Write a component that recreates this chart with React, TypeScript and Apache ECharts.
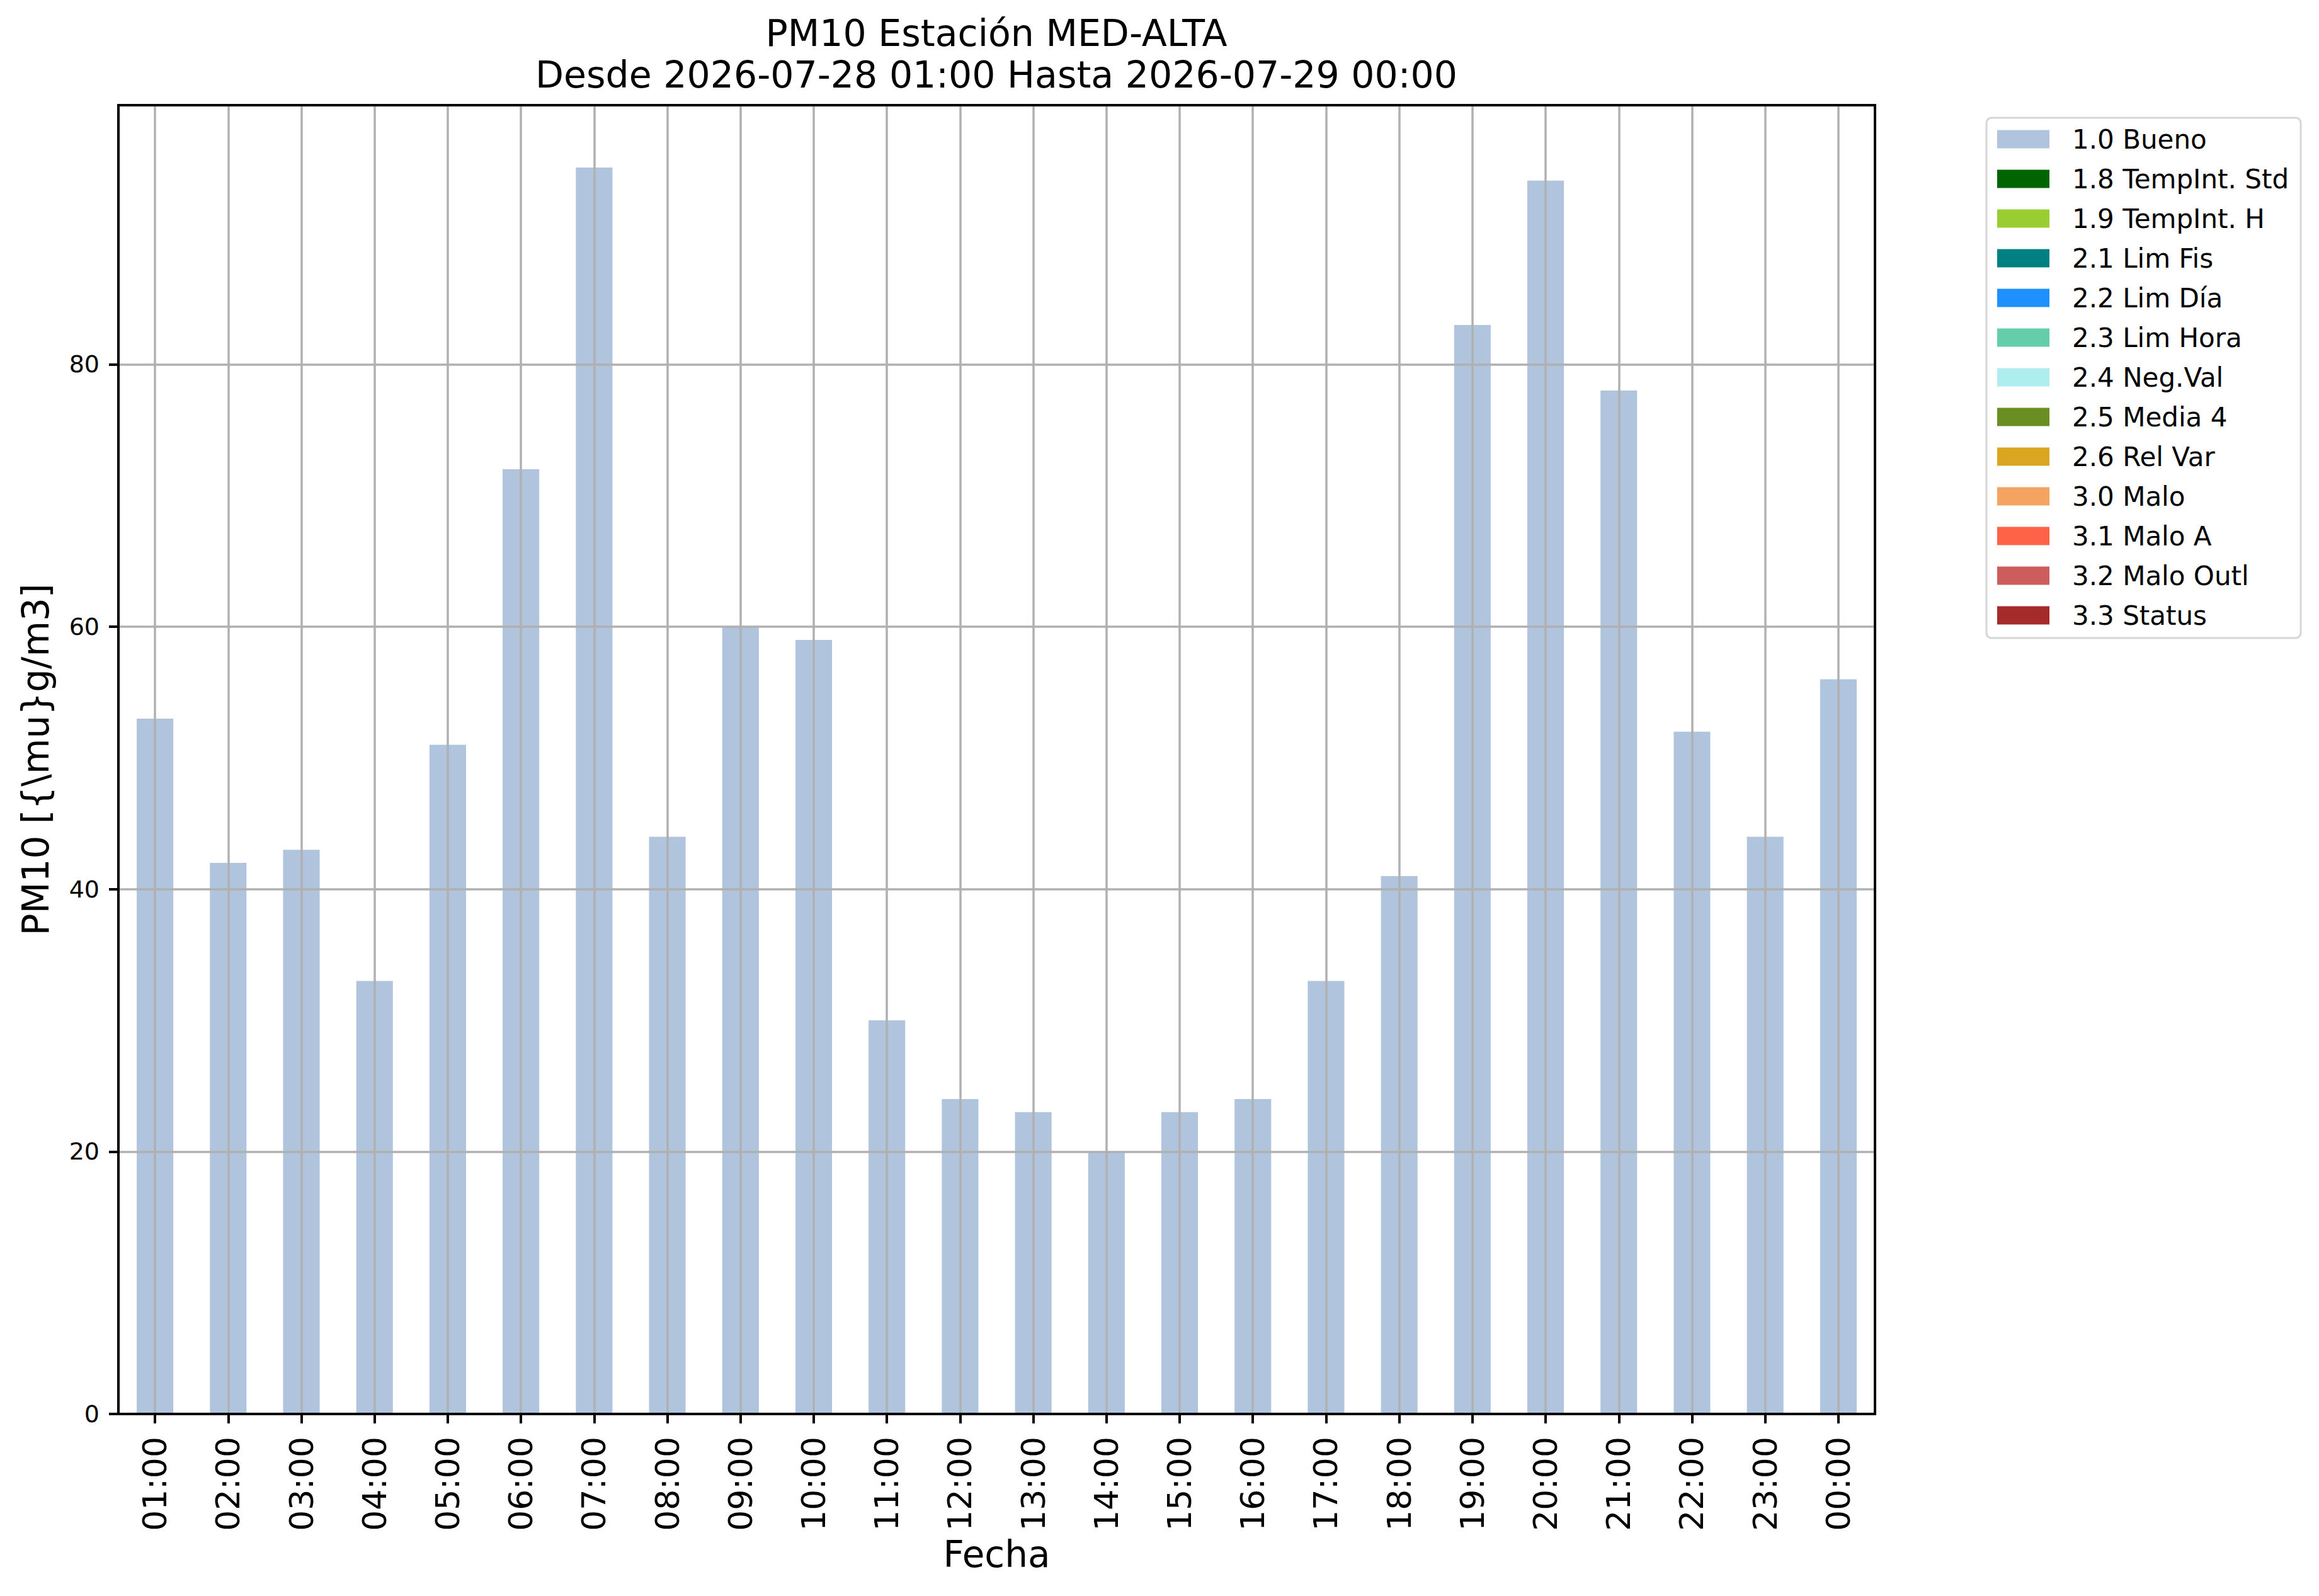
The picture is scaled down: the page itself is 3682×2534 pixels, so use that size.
import React, { useEffect, useRef } from "react";
import * as echarts from "echarts";

const categories = ["01:00","02:00","03:00","04:00","05:00","06:00","07:00","08:00","09:00","10:00","11:00","12:00","13:00","14:00","15:00","16:00","17:00","18:00","19:00","20:00","21:00","22:00","23:00","00:00"];
const buenoValues = [53,42,43,33,51,72,95,44,60,59,30,24,23,20,23,24,33,41,83,94,78,52,44,56];
const legendNames = ["1.0 Bueno","1.8 TempInt. Std","1.9 TempInt. H","2.1 Lim Fis","2.2 Lim Día","2.3 Lim Hora","2.4 Neg.Val","2.5 Media 4","2.6 Rel Var","3.0 Malo","3.1 Malo A","3.2 Malo Outl","3.3 Status"];
const legendColors = ["#b0c4de","#006400","#9acd32","#008080","#1e90ff","#66cdaa","#afeeee","#6b8e23","#daa520","#f4a460","#ff6347","#cd5c5c","#a52a2a"];
const yTicks = [0,20,40,60,80];
const yMax = 99.75;
const titleLines = ["PM10 Estación MED-ALTA","Desde 2026-07-28 01:00 Hasta 2026-07-29 00:00"];
const yName = "PM10 [{\\mu}g/m3]";
const xName = "Fecha";

const FONT = "DejaVu Sans";

export default function App() {
  const ref = useRef<HTMLDivElement>(null);
  useEffect(() => {
    document.body.style.margin = "0";
    const chart = echarts.init(ref.current!, null, { renderer: "svg" });
    const series: any[] = legendNames.map((name, i) => ({
      name,
      type: "bar",
      stack: "q",
      barWidth: "50%",
      data: i === 0 ? buenoValues : [],
      itemStyle: { color: legendColors[i] },
      z: 2,
    }));
    chart.setOption({
      animation: false,
      textStyle: { fontFamily: FONT, color: "#000" },
      title: {
        text: titleLines.join("\n"),
        left: 1582,
        top: 20,
        padding: 0,
        textAlign: "center",
        textStyle: { fontFamily: FONT, fontSize: 58.5, lineHeight: 66, fontWeight: "normal", color: "#000" },
      },
      legend: {
        orient: "vertical",
        left: 3154,
        top: 187,
        padding: [13, 19, 15, 17],
        itemWidth: 83,
        itemHeight: 29,
        itemGap: 21,
        icon: "rect",
        borderColor: "#d6d6d6",
        borderWidth: 3,
        borderRadius: 8,
        backgroundColor: "#fff",
        data: legendNames,
        textStyle: { fontFamily: FONT, fontSize: 42, lineHeight: 40, color: "#000", padding: [0, 0, 0, 31] },
      },
      grid: {
        left: 188,
        top: 167,
        width: 2789,
        height: 2078,
        show: true,
        borderColor: "#000",
        borderWidth: 4,
        backgroundColor: "transparent",
        z: 10,
        containLabel: false,
      },
      xAxis: {
        type: "category",
        data: categories,
        z: 5,
        name: xName,
        nameLocation: "middle",
        nameGap: 192,
        nameTextStyle: { fontFamily: FONT, fontSize: 58, color: "#000" },
        axisLine: { show: true, lineStyle: { color: "#000", width: 4 } },
        axisTick: { show: true, alignWithLabel: true, length: 15, lineStyle: { color: "#000", width: 4 } },
        axisLabel: { rotate: 90, fontSize: 52, fontFamily: FONT, color: "#000", margin: 36, interval: 0 },
        splitLine: { show: true, alignWithLabel: true, interval: 0, lineStyle: { color: "#b0b0b0", width: 3.5 } },
      },
      yAxis: {
        type: "value",
        min: 0,
        max: yMax,
        interval: 20,
        z: 5,
        name: yName,
        nameLocation: "middle",
        nameGap: 102,
        nameTextStyle: { fontFamily: FONT, fontSize: 58, color: "#000" },
        axisLine: { show: true, lineStyle: { color: "#000", width: 4 } },
        axisTick: { show: true, length: 15, customValues: yTicks, lineStyle: { color: "#000", width: 4 } },
        axisLabel: { fontSize: 38, fontFamily: FONT, color: "#000", margin: 30, customValues: yTicks },
        splitLine: { show: true, lineStyle: { color: "#b0b0b0", width: 3.5 } },
      },
      series,
    });
    return () => chart.dispose();
  }, []);
  return <div ref={ref} style={{ width: 3682, height: 2534 }} />;
}
